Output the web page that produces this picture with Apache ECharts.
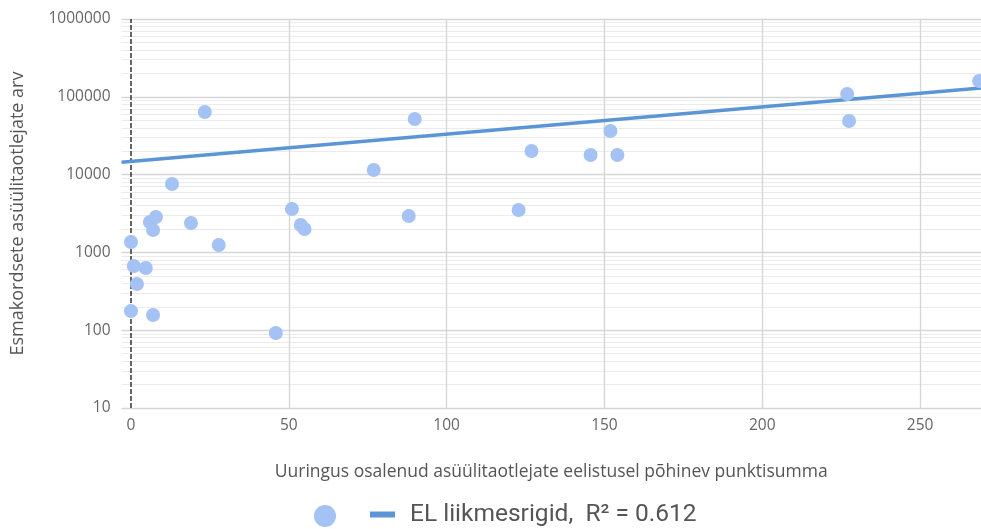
<!DOCTYPE html>
<html><head><meta charset="utf-8">
<script src="https://cdn.jsdelivr.net/npm/echarts@6/dist/echarts.min.js"></script>
<style>html,body{margin:0;padding:0;background:#fff}#c{width:981px;height:529px}</style>
</head><body><div id="c"></div>
<script>
// Data
const pointsX = [0, 0, 0.9, 1.9, 4.7, 6, 7, 7, 7.9, 13, 19, 23.4, 27.8, 45.9, 51, 53.8, 55, 76.9, 88, 89.9, 122.8, 126.9, 145.6, 151.9, 154.1, 226.9, 227.5, 268.7];
const pointsY = [1360, 176, 669, 392, 630, 2460, 1940, 157, 2850, 7570, 2390, 63800, 1245, 92, 3610, 2250, 2000, 11460, 2940, 51900, 3510, 20100, 17900, 36300, 17900, 108600, 48900, 159700];
const trendX = [-3, 269.3];
const trendY = [14390, 129800];
const xTicks = [0, 50, 100, 150, 200, 250];
const yTicks = [10, 100, 1000, 10000, 100000, 1000000];
const seriesName = 'EL liikmesrigid';
const trendName = 'EL liikmesrigid,  R\u00b2 = 0.612';

const AX_FONT = 'Open Sans';
const LEG_FONT = 'Roboto';
const minorY = [];
for (let d = 10; d < 1000000; d *= 10) for (let k = 2; k <= 9; k++) minorY.push(d * k);

const chart = echarts.init(document.getElementById('c'), null, {renderer: 'canvas'});
chart.setOption({
  animation: false,
  textStyle: {fontFamily: AX_FONT},
  grid: {left: 121.5, top: 19, width: 860, height: 389, containLabel: false},
  xAxis: {
    type: 'value', min: -3, max: 269.3,
    axisLine: {show: false}, axisTick: {show: false},
    splitLine: {show: false},
    axisLabel: {customValues: xTicks, color: '#666', fontSize: 15.5, margin: 10, fontFamily: AX_FONT},
    name: 'Uuringus osalenud asüülitaotlejate eelistusel põhinev punktisumma',
    nameLocation: 'middle', nameGap: 55,
    nameTextStyle: {color: '#555', fontSize: 17.5, fontFamily: AX_FONT}
  },
  yAxis: {
    type: 'log', logBase: 10, min: 10, max: 1000000,
    axisLine: {show: false}, axisTick: {show: false},
    splitLine: {show: true, lineStyle: {color: '#d6d6d6', width: 1.4}},
    axisLabel: {color: '#666', fontSize: 15.5, margin: 11, fontFamily: AX_FONT,
      formatter: v => String(Math.round(v))},
    name: 'Esmakordsete asüülitaotlejate arv',
    nameLocation: 'middle', nameGap: 95,
    nameTextStyle: {color: '#555', fontSize: 18, fontFamily: AX_FONT}
  },
  legend: [
    {data: [seriesName], left: 314, top: 505, padding: 0, icon: 'circle', itemWidth: 22, itemHeight: 22,
     formatter: () => '', selectedMode: false},
    {data: [trendName], left: 370, top: 502, padding: 0, icon: 'rect', itemWidth: 25, itemHeight: 6,
     selectedMode: false,
     textStyle: {color: '#555', fontSize: 24.5, fontFamily: LEG_FONT, padding: [0, 0, 0, 10]}}
  ],
  series: [
    {
      type: 'scatter', name: 'grid', data: [], silent: true, z: 1,
      markLine: {
        silent: true, symbol: 'none', label: {show: false}, animation: false, z: 1,
        data: [
          ...minorY.map(v => ({yAxis: v, lineStyle: {color: '#ebebeb', width: 1.2, type: 'solid'}})),
          ...xTicks.filter(v => v !== 0).map(v => ({xAxis: v, lineStyle: {color: '#d6d6d6', width: 1.4, type: 'solid'}})),
          {xAxis: 0, lineStyle: {color: '#333', width: 1.5, type: [5, 2]}}
        ]
      }
    },
    {
      type: 'line', name: trendName, data: trendX.map((x, i) => [x, trendY[i]]),
      showSymbol: false, symbol: 'none', z: 3,
      lineStyle: {color: '#5b95d6', width: 3.5},
      itemStyle: {color: '#5b95d6'}
    },
    {
      type: 'scatter', name: seriesName, data: pointsX.map((x, i) => [x, pointsY[i]]),
      symbolSize: 14, z: 4, clip: false,
      itemStyle: {color: '#a4c2f4', opacity: 1}
    }
  ]
});
</script></body></html>
